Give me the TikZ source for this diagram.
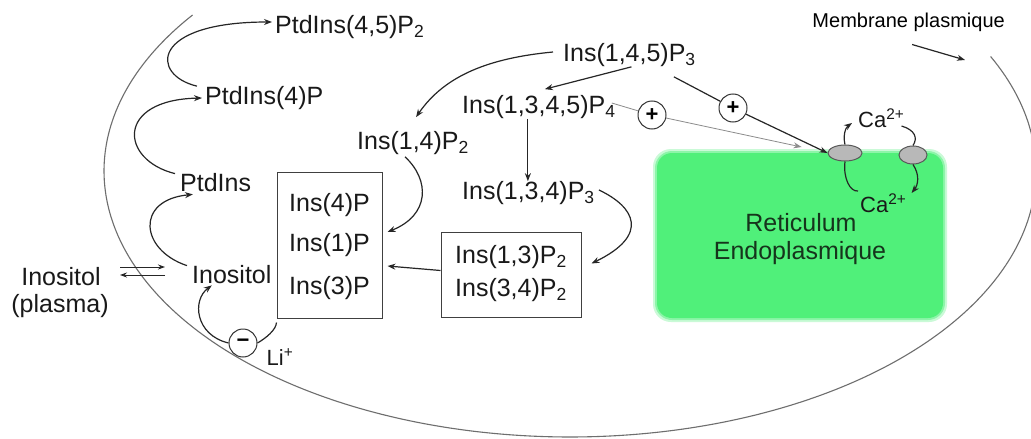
\documentclass[tikz,border=0pt]{standalone}
\usepackage{fontspec}
\setmainfont{Liberation Sans}
\usetikzlibrary{arrows.meta,calc,shapes.geometric}
\definecolor{ergreen}{RGB}{80,240,122}
\definecolor{ertext}{RGB}{22,52,28}
\definecolor{cellgray}{RGB}{110,110,110}
\begin{document}
\begin{tikzpicture}[x=1pt,y=-1pt,
  lbl/.style={inner sep=0pt, font=\fontsize{25}{30}\selectfont, text=black!90},
  small/.style={inner sep=0pt, font=\fontsize{22}{24}\selectfont, text=black!90},
  arr/.style={-{Stealth[length=8pt,width=6pt]}, line width=1.2pt, black!85},
  arrtwo/.style={-{Stealth[length=7pt,width=5pt]}, line width=1pt, black!85},
  ln/.style={line width=1.2pt, black!85},
  thinln/.style={line width=0.8pt, black!45},
  thinarr/.style={-{Stealth[length=8pt,width=6pt]}, line width=0.8pt, black!45},
  sign/.style={circle, draw=black!80, line width=1pt, fill=white, minimum size=28pt, inner sep=0pt, font=\fontsize{22}{22}\selectfont\bfseries},
  chan/.style={ellipse, draw=black!65, fill=black!28, line width=1pt, inner sep=0pt},
  boxed/.style={draw=black!75, line width=1pt, inner sep=0pt},
  cell/.style={line width=1.1pt, cellgray}
]
\fill[white] (0,0) rectangle (1031,439);
\useasboundingbox (0,0) rectangle (1031,439);

% cell membrane
\draw[cell] plot[domain=-25.5:215.9, samples=160, smooth, variable=\t] ({570+466*cos(\t)},{171+266*sin(\t)});

% endoplasmic reticulum
\fill[ergreen!30, rounded corners=18pt] (653,149) rectangle (947,322);
\fill[ergreen!65, rounded corners=17pt] (655,151) rectangle (945,320);
\node[fill=ergreen, rounded corners=15pt, minimum width=286pt, minimum height=165pt, inner sep=0pt] (er) at (800,235.5) {};
\node[lbl, text=ertext] (ret) at (801,223) {Reticulum};
\node[lbl, text=ertext] (endo) at (800,253) {Endoplasmique};

% channels and calcium
\node[chan, minimum width=34pt, minimum height=16pt] (chL) at (845,153) {};
\node[chan, minimum width=28pt, minimum height=18pt] (chR) at (913,155) {};
\node[small, anchor=west] (cat) at (858,118) {Ca\textsuperscript{2+}};
\node[small, anchor=west] (cab) at (860,203) {Ca\textsuperscript{2+}};

% labels
\node[lbl, anchor=west] (p45) at (275,27) {PtdIns(4,5)P\textsubscript{2}};
\node[lbl, anchor=west] (p4) at (205,98) {PtdIns(4)P};
\node[lbl, anchor=west] (pi) at (180,183) {PtdIns};
\node[lbl, anchor=west] (inos) at (192,275) {Inositol};
\node[lbl] (inosl) at (61,277) {Inositol};
\node[lbl] (plasma) at (60,306) {(plasma)};

\node[boxed, minimum width=105pt, minimum height=146pt] (b1) at (329.5,245) {};
\node[lbl] (i4) at (329.5,205) {Ins(4)P};
\node[lbl] (i1) at (329.5,245) {Ins(1)P};
\node[lbl] (i3) at (329.5,288) {Ins(3)P};

\node[boxed, minimum width=140pt, minimum height=85pt] (b2) at (511,274.5) {};
\node[lbl] (i13) at (511,257) {Ins(1,3)P\textsubscript{2}};
\node[lbl] (i34) at (511,290) {Ins(3,4)P\textsubscript{2}};

\node[lbl, anchor=west] (i14) at (357,143) {Ins(1,4)P\textsubscript{2}};
\node[lbl, anchor=west] (i145) at (563,55) {Ins(1,4,5)P\textsubscript{3}};
\node[lbl, anchor=west] (i1345) at (462,107) {Ins(1,3,4,5)P\textsubscript{4}};
\node[lbl, anchor=west] (i134) at (462,193) {Ins(1,3,4)P\textsubscript{3}};

\node[sign] (pl1) at (652,115) {+};
\node[sign] (pl2) at (733,108) {+};
\node[sign] (mn) at (243,343) {−};
\node[small] (li) at (280,357) {Li\textsuperscript{+}};

\node[inner sep=0pt, font=\fontsize{20}{22}\selectfont, anchor=east] (mem) at (1005,22) {Membrane plasmique};
\coordinate (memtip) at (965,60);

% phosphoinositide cycle
\draw[arr] ([xshift=-8pt]p4.north west) .. controls (150,75) and (150,22) .. ([xshift=-3pt,yshift=5pt]p45.west);
\draw[arr] ([xshift=-5pt]pi.north west) .. controls (120,160) and (115,100) .. ([xshift=-3pt]p4.west);
\draw[arr] ([xshift=-5pt]inos.north west) .. controls (140,250) and (135,200) .. ([xshift=13pt,yshift=-2pt]pi.south west);

% inositol exchange
\draw[arrtwo] ([xshift=-72pt,yshift=8pt]inos.west) -- ([xshift=-27pt,yshift=8pt]inos.west);
\draw[arrtwo] ([xshift=-27pt]inos.west) -- ([xshift=-72pt]inos.west);

% inositol phosphates
\draw[arr] ([xshift=-10pt,yshift=3pt]i145.west) .. controls (490,58) and (445,75) .. ([xshift=3pt,yshift=14pt]i14.north);
\draw[arr] ([xshift=2pt]i145.south) -- ([xshift=6pt,yshift=6pt]i1345.north);
\draw[arr] ([xshift=-11pt]i1345.south) -- ([xshift=-11pt]i1345.south |- i134.north);
\draw[arr] ([xshift=4pt,yshift=3pt]i134.east) .. controls (635,207) and (650,235) .. ([xshift=10pt,yshift=11pt]b2.east);
\draw[arr] ([xshift=-8pt,yshift=-2pt]i14.south) .. controls (430,180) and (430,215) .. ([xshift=5pt,yshift=13pt]b1.east);
\draw[arr] ([yshift=4pt]b2.west) -- ([xshift=5pt,yshift=-21pt]b1.east);

% lithium inhibition
\draw[ln] ([yshift=-4pt]b1.south west) .. controls (276,330) and (266,338) .. (mn.east);
\draw[arr] (mn.west) .. controls (195,335) and (192,300) .. ([xshift=-20pt,yshift=-1pt]inos.south);

% activation of channels
\draw[thinln] ([xshift=-4pt,yshift=4pt]i1345.east) -- (pl1);
\draw[thinarr] (pl1) -- ([xshift=-26pt,yshift=6pt]chL.west);
\draw[ln] ([xshift=-22pt,yshift=-10pt]i145.south east) -- (pl2);
\draw[arr] (pl2) -- (chL.west);

% calcium fluxes
\draw[arr] (chL.north) .. controls (843,137) and (845,128) .. ([xshift=-6pt,yshift=-5pt]cat.west);
\draw[ln] ([xshift=-2pt,yshift=12pt]cab.west) .. controls (850,192) and (843,178) .. (chL.south);
\draw[ln] ([xshift=-3pt,yshift=-8pt]cat.east) .. controls (915,130) and (918,138) .. (chR.north);
\draw[arr] (chR.south) .. controls (920,175) and (918,185) .. ([xshift=5pt,yshift=10pt]cab.east);

% membrane label arrow
\draw[arr] ([xshift=3.5pt,yshift=-13pt]mem.south) -- (memtip);
\end{tikzpicture}
\end{document}
